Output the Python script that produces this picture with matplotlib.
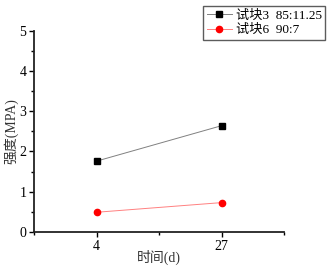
import matplotlib
matplotlib.use("Agg")
import matplotlib.pyplot as plt
from matplotlib.ticker import MultipleLocator

plt.rcParams["font.family"] = ["Liberation Serif", "Noto Sans CJK SC"]

days = ["4", "27"]
block3 = [1.76, 2.64]
block6 = [0.49, 0.73]
labels = ["试块3  85:11.25", "试块6  90:7"]

fig = plt.figure(figsize=(3.3, 2.68), dpi=100)
ax = fig.add_axes([34 / 330, 1 - 232 / 268, 250 / 330, 201.3 / 268])

x = [1, 2]
ax.plot(x, block3, color="#808080", lw=0.7, marker="s", ms=4.5,
        mfc="black", mec="black", label=labels[0])
ax.plot(x, block6, color="#ff8080", lw=0.7, marker="o", ms=4.5,
        mfc="red", mec="red", label=labels[1])

ax.set_xlim(0.5, 2.5)
ax.set_ylim(0, 5)
ax.set_xticks(x)
ax.set_xticklabels(days)
ax.xaxis.set_minor_locator(MultipleLocator(0.5))
ax.yaxis.set_major_locator(MultipleLocator(1))
ax.yaxis.set_minor_locator(MultipleLocator(0.5))
for side in ["top", "right"]:
    ax.spines[side].set_visible(False)
for side in ["left", "bottom"]:
    ax.spines[side].set_linewidth(1.3)
    ax.spines[side].set_color("#222222")
ax.tick_params(which="major", direction="out", length=3.5, width=1, labelsize=10, pad=2)
ax.tick_params(which="minor", direction="out", length=2, width=1)

ax.set_xlabel("时间(d)", fontsize=10, color="#333333")
ax.set_ylabel("强度(MPA)", fontsize=10, color="#333333")
ax.yaxis.set_label_coords(-0.09, 0.5)
ax.xaxis.set_label_coords(0.5, -0.125)
ax.xaxis.label.set_va("center")
ax.yaxis.label.set_va("center")

leg = ax.legend(loc="upper right", bbox_to_anchor=(325 / 330, 1 - 6 / 268),
                bbox_transform=fig.transFigure, fontsize=9.5, frameon=True,
                fancybox=False, edgecolor="#333333", borderpad=0.25,
                handlelength=1.9, handletextpad=0.3, labelspacing=0.2,
                borderaxespad=0)
leg.get_frame().set_linewidth(1.0)

fig.savefig("out.png", dpi=100)
